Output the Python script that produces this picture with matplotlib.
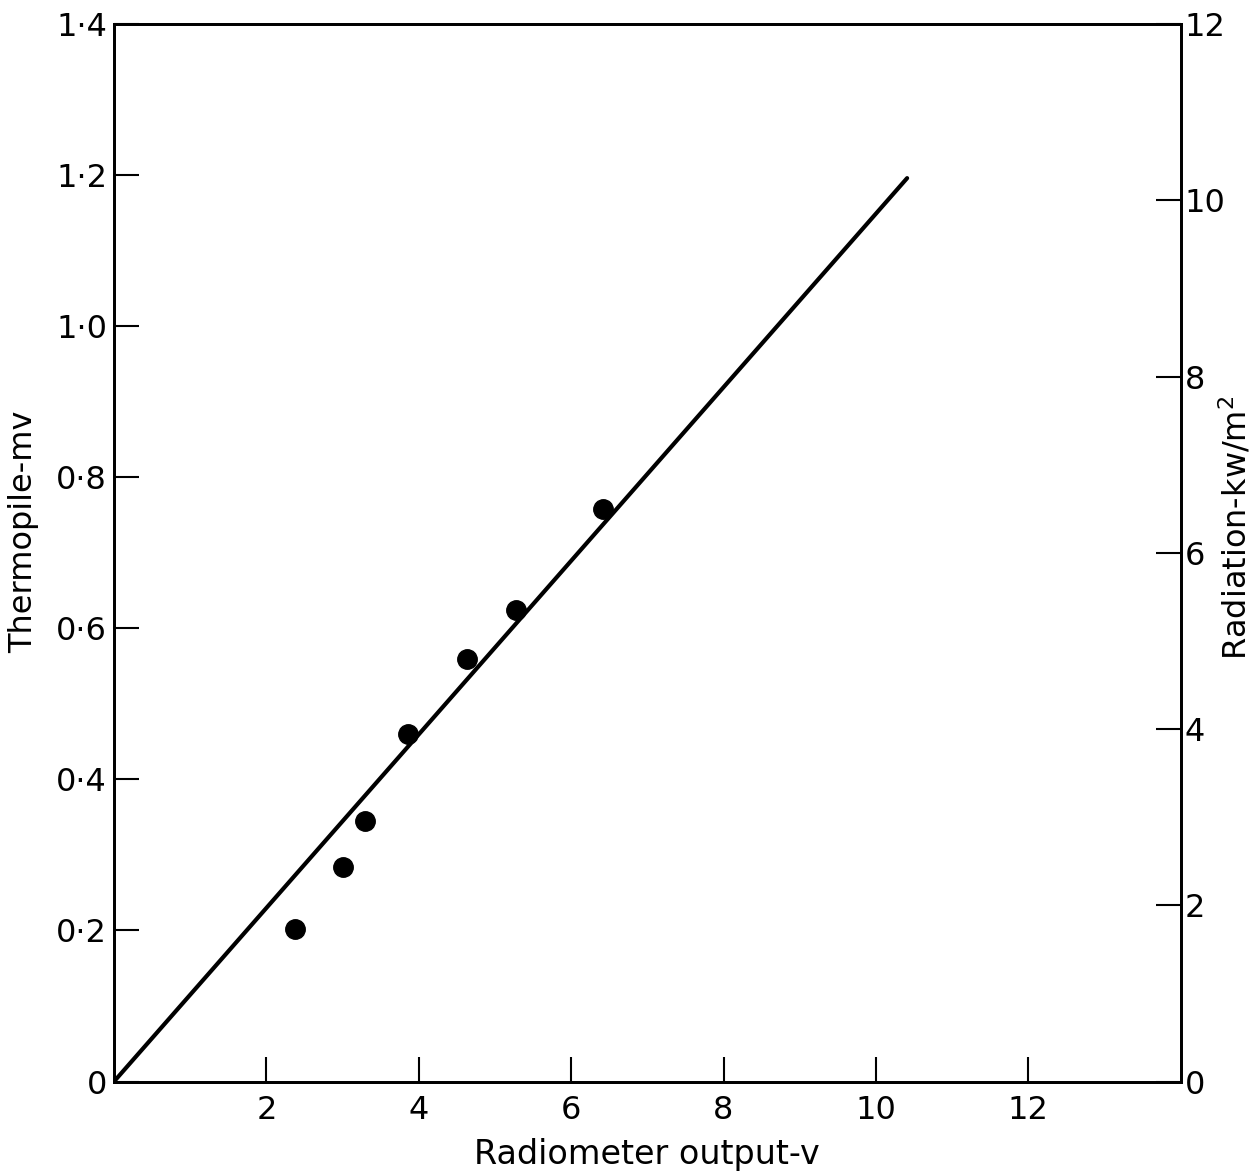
import matplotlib.pyplot as plt

# measured points (radiometer output v, thermopile mv)
radiometer = [2.38, 3.01, 3.29, 3.86, 4.63, 5.27, 6.42]
thermopile = [0.202, 0.284, 0.345, 0.460, 0.559, 0.624, 0.758]

# calibration line
line_x = [0.0, 10.41]
line_y = [0.0, 1.196]

xticks = [2, 4, 6, 8, 10, 12]
yticks = [0, 0.2, 0.4, 0.6, 0.8, 1.0, 1.2, 1.4]
ylabels = ['0', '0·2', '0·4', '0·6', '0·8', '1·0', '1·2', '1·4']
rticks = [0, 2, 4, 6, 8, 10, 12]

plt.rcParams['font.family'] = ['DejaVu Sans']

fig = plt.figure(figsize=(12.6, 11.73), dpi=100)
ax = fig.add_axes([0.0905, 0.078, 0.8465, 0.9015])

ax.plot(line_x, line_y, color='black', linewidth=3, solid_capstyle='round')
ax.plot(radiometer, thermopile, 'o', color='black', markersize=14)

ax.set_xlim(0, 14)
ax.set_ylim(0, 1.4)
ax.set_xticks(xticks)
ax.set_yticks(yticks)
ax.set_yticklabels(ylabels)
ax.tick_params(direction='in', length=18, width=1.5, labelsize=23, pad=5)
ax.tick_params(axis='x', pad=10)
for s in ax.spines.values():
    s.set_linewidth(2)

ax.set_xlabel('Radiometer output-v', fontsize=24, labelpad=8)
ax.set_ylabel('Thermopile-mv', fontsize=23)
ax.yaxis.set_label_coords(-0.07, 0.52)

# right hand scale
ax2 = ax.twinx()
ax2.set_ylim(0, 12)
ax2.set_yticks(rticks)
ax2.tick_params(direction='in', length=18, width=1.5, labelsize=23, pad=3)
for s in ax2.spines.values():
    s.set_linewidth(2)

fig.text(0.981, 0.55, 'Radiation-kw/m$^2$', fontsize=23, rotation=90,
         ha='center', va='center')

fig.savefig('out.png', dpi=100)
